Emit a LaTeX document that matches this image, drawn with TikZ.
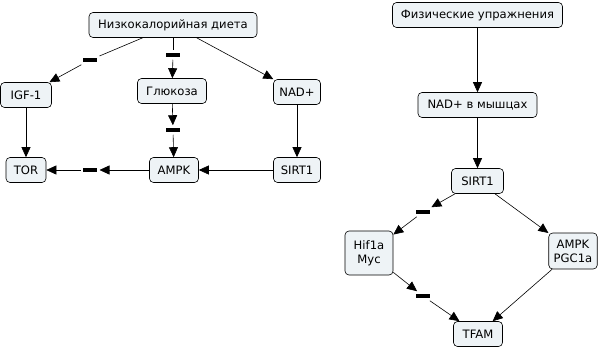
\documentclass[tikz,border=0pt]{standalone}
\usepackage{fontspec}
\setmainfont{DejaVu Sans}
\usetikzlibrary{arrows.meta, positioning}
\definecolor{boxfill}{RGB}{238,243,246}

\begin{document}
\begin{tikzpicture}[x=1pt, y=-1pt, font=\fontsize{11.6}{14}\selectfont,
  box/.style={draw, rounded corners=4pt, fill=boxfill, minimum height=25pt,
              inner xsep=5pt, line width=0.6pt},
  minus/.style={fill=black, minimum width=14pt, minimum height=4.5pt,
                inner sep=0pt, outer sep=2.5pt},
  link/.style={line width=0.6pt},
  act/.style={link, -{Triangle[length=10pt, width=9pt]}}]

  \useasboundingbox (0,0) rectangle (607,348);

  % diet map
  \node[box, minimum width=168pt] (diet) at (173,25) {Низкокалорийная диета};
  \node[box, minimum width=51pt]  (igf)  at (26,95)  {IGF-1};
  \node[box, minimum width=69pt]  (glu)  at (172,91) {Глюкоза};
  \node[box, minimum width=47pt]  (nad)  at (297,92) {NAD+};
  \node[box, minimum width=40pt]  (tor)  at (26,170) {TOR};
  \node[box, minimum width=49pt]  (ampk) at (174,170) {AMPK};
  \node[box, minimum width=47pt]  (sirtA) at (297,170) {SIRT1};

  % minus labels on the links
  \node[minus] (m1) at (90,60) {};
  \node[minus] (m2) at (173,55) {};
  \node[minus] (m3) at (173,130) {};
  \node[minus] (m4) at (90,170) {};

  \draw[link] (diet) -- (m1);
  \draw[act]  (m1) -- (igf);
  \draw[link] (diet) -- (m2);
  \draw[act]  (m2) -- (glu);
  \draw[act]  (diet) -- (nad);
  \draw[act]  (igf) -- (tor);
  \draw[act]  (glu) -- (m3);
  \draw[act]  (m3) -- (ampk);
  \draw[act]  (nad) -- (sirtA);
  \draw[act]  (sirtA) -- (ampk);
  \draw[act]  (ampk) -- (m4);
  \draw[act]  (m4) -- (tor);

  % exercise map
  \node[box, minimum width=170pt] (ex)   at (477.5,15)  {Физические упражнения};
  \node[box, minimum width=119pt] (nadm) at (477.5,105) {NAD+ в мышцах};
  \node[box, minimum width=52pt]  (sirtB) at (477.5,181) {SIRT1};
  \node[box, minimum width=48pt, minimum height=44pt, align=center] (hif) at (369,253) {Hif1a\\Myc};
  \node[box, minimum width=48pt, minimum height=36pt, align=center] (pgc) at (573,251) {AMPK\\PGC1a};
  \node[box, minimum width=49pt]  (tfam) at (478,334) {TFAM};

  \node[minus] (m5) at (423,212) {};
  \node[minus] (m6) at (423,296) {};

  \draw[act] (ex) -- (nadm);
  \draw[act] (nadm) -- (sirtB);
  \draw[act] (sirtB) -- (m5);
  \draw[act] (m5) -- (hif);
  \draw[act] (sirtB) -- (pgc);
  \draw[act] (hif) -- (m6);
  \draw[act] (m6) -- (tfam);
  \draw[act] (pgc) -- (tfam);

\end{tikzpicture}
\end{document}
